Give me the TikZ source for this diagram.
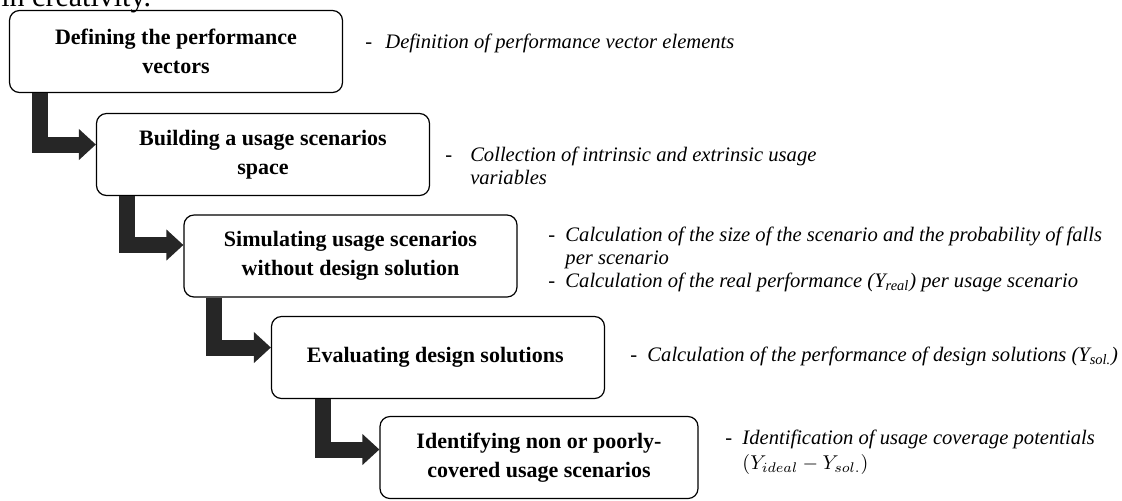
\documentclass[tikz,border=0pt]{standalone}
\usepackage{fontspec}
\setmainfont{Liberation Serif}
\usetikzlibrary{arrows.meta,positioning}
\definecolor{flowgray}{HTML}{262626}
\tikzset{
    stepbox/.style={draw, rounded corners=5pt, line width=0.6pt, minimum width=166.5pt, minimum height=41pt, align=center, font=\fontsize{11}{14.5}\selectfont\bfseries},
    flow/.style={draw=flowgray, line width=8pt, -{Triangle[length=8.5pt,width=15pt]}},
    note/.style={anchor=west, inner sep=0pt, font=\fontsize{10.3}{11.5}\selectfont\itshape},
}
\begin{document}
\begin{tikzpicture}[x=0.5pt, y=-0.5pt]
            \useasboundingbox (0,0) rectangle (1122,500);
            \node[anchor=base west, inner sep=0pt, font=\fontsize{15}{18}\selectfont] (cap) at (1,6) {in creativity.};

            \node[stepbox] (b1) at (176, 51.5) { Defining the performance\\vectors };
            \node[stepbox] (b2) at (263, 154.5) { Building a usage scenarios\\space };
            \node[stepbox] (b3) at (350.5, 256) { Simulating usage scenarios\\without design solution };
            \node[stepbox] (b4) at (438, 357.5) { Evaluating design solutions };
            \node[stepbox, minimum width=159pt] (b5) at (539, 457.5) { Identifying non or poorly-\\covered usage scenarios };

            \draw[flow] ([xshift=15.5pt]b1.south west) |- ([yshift=5pt]b2.west);
            \draw[flow] ([xshift=15.5pt]b2.south west) |- ([yshift=5.5pt]b3.west);
            \draw[flow] ([xshift=15.5pt]b3.south west) |- ([yshift=5pt]b4.west);
            \draw[flow] ([xshift=26pt]b4.south west) |- ([yshift=4pt]b5.west);

            \node[note] (d1) at (365, 44) { \begin{tabular}{@{}l@{\hspace{6.6pt}}l@{}} - & Definition of performance vector elements \end{tabular} };
            \node[note] (d2) at (445, 168.5) { \begin{tabular}{@{}l@{\hspace{9pt}}l@{}} - & Collection of intrinsic and extrinsic usage\\ & variables \end{tabular} };
            \node[note] (d3) at (548, 260) { \begin{tabular}{@{}l@{\hspace{5.1pt}}l@{}} - & Calculation of the size of the scenario and the probability of falls\\ & per scenario\\ - & Calculation of the real performance (Y\textsubscript{real}) per usage scenario \end{tabular} };
            \node[note] (d4) at (630, 357) { \begin{tabular}{@{}l@{\hspace{5.1pt}}l@{}} - & Calculation of the performance of design solutions (Y\textsubscript{sol.}) \end{tabular} };
            \node[note] (d5) at (725, 452.5) { \begin{tabular}{@{}l@{\hspace{5.1pt}}l@{}} - & Identification of usage coverage potentials\\[1pt] & $(Y_{ideal}-Y_{sol.})$ \end{tabular} };
        \end{tikzpicture}
\end{document}
